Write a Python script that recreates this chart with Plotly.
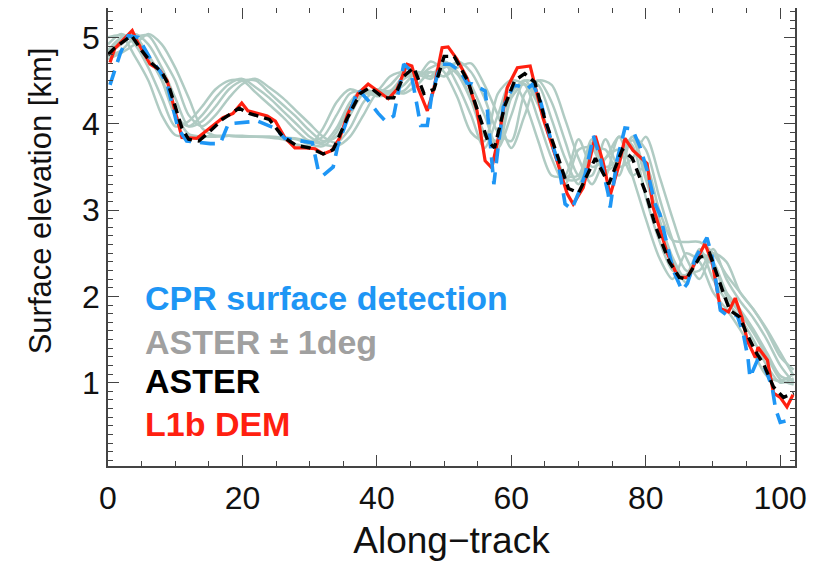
import plotly.graph_objects as go

# ---------------- data ----------------
red_x = [0.3, 1.0, 3.6, 4.3, 6.25, 7.7, 8.8, 11.0, 13.2, 15.2, 17.1, 18.6, 19.9, 20.8, 23.7, 24.9,
         26.3, 27.8, 29.3, 30.8, 32.0, 33.3, 34.5, 35.7, 37.2, 38.7, 40.2, 41.7, 43.0, 44.5, 45.2,
         46.1, 47.5, 48.4, 49.7, 50.6, 51.9, 53.4, 54.9, 56.1, 57.1, 58.3, 59.4, 60.9, 62.8, 63.5,
         64.7, 66.8, 68.3, 69.2, 70.7, 72.5, 73.7, 74.7, 75.9, 76.9, 78.1, 80.2, 81.1, 83.2, 84.8,
         86.2, 88.8, 89.9, 91.1, 92.3, 93.3, 94.3, 95.1, 96.3, 96.7, 98.1, 99.0, 100.0, 101.0, 101.9]
red_y = [4.71, 4.87, 5.08, 4.96, 4.69, 4.62, 4.50, 3.84, 3.83, 3.95, 4.07, 4.12, 4.24, 4.15, 4.09, 4.03,
         3.84, 3.72, 3.72, 3.71, 3.65, 3.69, 3.84, 4.12, 4.35, 4.46, 4.38, 4.29, 4.40, 4.69, 4.67,
         4.42, 4.15, 4.38, 4.88, 4.89, 4.75, 4.53, 4.15, 3.57, 3.49, 3.92, 4.42, 4.65, 4.67, 4.46,
         4.07, 3.57, 3.19, 3.07, 3.26, 3.86, 3.54, 3.17, 3.49, 3.83, 3.69, 3.54, 3.03, 2.50, 2.22,
         2.22, 2.61, 2.39, 1.86, 1.82, 1.98, 1.76, 1.49, 1.29, 1.41, 1.26, 0.88, 0.83, 0.72, 0.86]

aster_x = [0, 1, 3.5, 5, 6.5, 8, 9, 11, 12, 13.5, 15, 17, 19.5, 21, 24, 26, 28, 30, 32, 33.5, 35.5,
           37.5, 39, 41, 42.5, 44, 45.5, 47, 48.5, 50, 51.5, 53.5, 55, 56.5, 57.5, 59, 60.5, 62,
           63.5, 65, 67, 68.5, 70, 72.5, 74.5, 76.5, 78, 80, 81.5, 83.5, 85, 86, 88, 89.5, 91.5,
           92.5, 94, 95, 96.5, 97.5, 99, 100.5, 102]
aster_y = [4.80, 4.88, 5.02, 4.85, 4.70, 4.60, 4.45, 3.95, 3.82, 3.80, 3.90, 4.05, 4.18, 4.12, 4.05,
           3.85, 3.75, 3.72, 3.65, 3.70, 4.05, 4.35, 4.42, 4.30, 4.30, 4.55, 4.65, 4.35, 4.40, 4.78,
           4.78, 4.50, 4.15, 3.80, 3.72, 4.20, 4.50, 4.58, 4.48, 4.05, 3.60, 3.25, 3.20, 3.60, 3.30,
           3.70, 3.60, 3.20, 2.80, 2.40, 2.22, 2.20, 2.45, 2.50, 2.05, 1.84, 1.76, 1.57, 1.34, 1.22,
           0.95, 0.83, 0.88]

cpr_x = [0.3, 1.8, 3.0, 4.5, 6.25, 7.7, 8.8, 10.4, 11.7, 13.7, 15.2, 16.7, 17.9, 22.3, 24.8, 26.3,
         28.3, 30.4, 31.3, 32.0, 33.5, 34.2, 35.7, 37.2, 38.7, 40.2, 41.3, 42.5, 44.0, 45.0, 46.0,
         46.5, 47.5, 48.2, 49.5, 50.9, 52.4, 53.4, 54.2, 56.1, 56.4, 57.1, 57.4, 58.1, 58.8, 60.3,
         61.0, 62.3, 63.2, 64.3, 65.8, 67.0, 68.0, 69.0, 70.0, 71.0, 72.2, 73.2, 74.4, 74.7, 75.7,
         76.9, 78.0, 79.2, 80.2, 81.4, 82.1, 84.1, 85.4, 86.2, 87.4, 89.1, 89.9, 91.1, 92.1, 93.6,
         94.5, 95.2, 95.5, 96.6, 97.5, 98.8, 99.3, 100.0, 101.0, 101.9]
cpr_y = [4.45, 4.81, 5.02, 5.00, 4.76, 4.61, 4.46, 3.95, 3.80, 3.78, 3.77, 3.77, 4.00, 4.03, 3.95, 3.83,
         3.81, 3.78, 3.45, 3.40, 3.50, 3.75, 4.07, 4.40, 4.27, 4.12, 4.03, 4.09, 4.69, 4.62, 4.20,
         3.98, 3.98, 4.35, 4.69, 4.69, 4.61, 4.47, 4.46, 4.38, 4.19, 3.57, 3.30, 3.77, 4.19, 4.44,
         4.44, 4.40, 4.46, 4.27, 3.84, 3.54, 3.07, 3.01, 3.20, 3.42, 3.86, 3.61, 3.19, 3.03, 3.57,
         3.95, 3.94, 3.72, 3.46, 3.07, 2.95, 2.30, 2.07, 2.15, 2.45, 2.68, 2.45, 1.84, 1.78, 1.78,
         1.57, 1.29, 1.06, 1.26, 1.22, 0.95, 0.70, 0.54, 0.56, 0.59]

# ASTER +/- 1 deg profiles, sampled every 2 along-track units
gray_x = [0, 2, 4, 6, 8, 10, 12, 14, 16, 18, 20, 22, 24, 26, 28, 30, 32, 34, 36, 38, 40, 42, 44, 46,
          48, 50, 52, 54, 56, 58, 60, 62, 64, 66, 68, 70, 72, 74, 76, 78, 80, 82, 84, 86, 88, 90,
          92, 94, 96, 98, 100, 102]
gray_a = [4.92, 5.04, 4.92, 4.65, 4.30, 3.97, 4.03, 4.20, 4.40, 4.50, 4.50, 4.36, 4.22, 4.08, 3.92,
          3.80, 3.85, 4.10, 4.35, 4.38, 4.35, 4.45, 4.60, 4.55, 4.65, 4.70, 4.45, 4.10, 3.72, 4.10,
          4.50, 4.45, 4.05, 3.60, 3.30, 3.70, 3.72, 3.40, 3.85, 3.75, 3.15, 2.65, 2.30, 2.25, 2.55,
          2.20, 1.95, 1.75, 1.50, 1.20, 1.00, 1.05]
gray_b = [4.85, 5.00, 5.02, 4.78, 4.50, 4.10, 3.97, 4.10, 4.30, 4.46, 4.52, 4.42, 4.30, 4.15, 4.00,
          3.85, 3.78, 3.95, 4.25, 4.40, 4.35, 4.38, 4.55, 4.60, 4.55, 4.72, 4.60, 4.30, 3.90, 3.80,
          4.35, 4.50, 4.25, 3.80, 3.40, 3.40, 3.82, 3.50, 3.60, 3.85, 3.40, 2.90, 2.45, 2.20, 2.50,
          2.40, 2.05, 1.85, 1.62, 1.35, 1.08, 1.02]
gray_c = [4.82, 4.92, 5.04, 4.92, 4.65, 4.30, 3.97, 4.03, 4.20, 4.40, 4.50, 4.50, 4.36, 4.22, 4.08,
          3.92, 3.80, 3.85, 4.10, 4.35, 4.38, 4.35, 4.45, 4.60, 4.55, 4.65, 4.70, 4.45, 4.10, 3.72,
          4.10, 4.50, 4.45, 4.05, 3.60, 3.30, 3.70, 3.70, 3.40, 3.85, 3.70, 3.15, 2.65, 2.30, 2.30,
          2.55, 2.20, 1.95, 1.75, 1.50, 1.20, 1.00]
gray_d = [4.78, 4.85, 5.00, 5.02, 4.78, 4.50, 4.10, 3.97, 4.10, 4.30, 4.46, 4.52, 4.42, 4.30, 4.15,
          4.00, 3.85, 3.78, 3.95, 4.25, 4.40, 4.35, 4.38, 4.55, 4.60, 4.55, 4.72, 4.60, 4.30, 3.90,
          3.80, 4.35, 4.50, 4.25, 3.80, 3.40, 3.40, 3.82, 3.50, 3.60, 3.85, 3.40, 2.90, 2.45, 2.20,
          2.50, 2.40, 2.05, 1.85, 1.62, 1.35, 1.08]
gray_e = [5.00, 5.02, 4.78, 4.50, 4.10, 3.87, 3.85, 3.85, 3.86, 3.86, 3.85, 3.85, 3.84, 3.82, 3.76,
          3.75, 3.95, 4.25, 4.40, 4.35, 4.38, 4.55, 4.60, 4.55, 4.72, 4.60, 4.30, 3.90, 3.80, 4.35,
          4.50, 4.25, 3.80, 3.40, 3.40, 3.82, 3.50, 3.60, 3.85, 3.40, 2.90, 2.45, 2.20, 2.50, 2.40,
          2.05, 1.85, 1.62, 1.35, 1.08, 1.02, 1.10]
gray_f = [4.83, 4.97, 5.00, 4.80, 4.52, 4.12, 3.88, 3.85, 3.85, 3.86, 3.86, 3.85, 3.85, 3.84, 3.82,
          3.76, 3.74, 3.90, 4.20, 4.36, 4.32, 4.35, 4.52, 4.57, 4.52, 4.68, 4.57, 4.27, 3.86, 3.76,
          4.30, 4.46, 4.22, 3.76, 3.36, 3.36, 3.78, 3.46, 3.56, 3.81, 3.36, 2.86, 2.41, 2.16, 2.46,
          2.36, 2.01, 1.81, 1.58, 1.31, 1.04, 0.98]
gray_g = [4.75, 4.82, 4.92, 5.04, 4.92, 4.65, 4.30, 3.95, 3.86, 3.86, 3.85, 3.85, 3.85, 3.84, 3.83,
          3.80, 3.76, 3.74, 3.85, 4.10, 4.35, 4.38, 4.35, 4.45, 4.60, 4.55, 4.65, 4.70, 4.45, 4.10,
          3.72, 4.10, 4.50, 4.45, 4.05, 3.60, 3.30, 3.60, 3.70, 3.40, 3.50, 3.00, 2.65, 2.63, 2.63,
          2.50, 2.25, 2.05, 1.85, 1.60, 1.30, 1.15]
gray_lines = [gray_a, gray_b, gray_c, gray_d, gray_e, gray_f, gray_g]

x_ticks = [0, 20, 40, 60, 80, 100]
y_ticks = [1, 2, 3, 4, 5]

legend_labels = ["CPR surface detection", "ASTER \u00b1 1deg", "ASTER", "L1b DEM"]

# ---------------- styles ----------------
GRAY = "#B0CBC3"
BLUE = "#1E96F5"
RED = "#FF2010"
FONT = "Liberation Sans, Arial, Helvetica, sans-serif"

fig = go.Figure()
for gy in gray_lines:
    fig.add_trace(go.Scatter(x=gray_x, y=gy, mode="lines",
                             line=dict(color=GRAY, width=2.5, shape="spline", smoothing=0.8),
                             hoverinfo="skip", showlegend=False))
fig.add_trace(go.Scatter(x=red_x, y=red_y, mode="lines",
                         line=dict(color=RED, width=3.2), showlegend=False))
fig.add_trace(go.Scatter(x=cpr_x, y=cpr_y, mode="lines",
                         line=dict(color=BLUE, width=3.6, dash="15px,9px"), showlegend=False))
fig.add_trace(go.Scatter(x=aster_x, y=aster_y, mode="lines",
                         line=dict(color="black", width=3.4, dash="10px,6px"), showlegend=False))

legend_colors = [BLUE, "#A0A0A0", "black", RED]
legend_y = [0.366, 0.270, 0.185, 0.0915]
for lab, col, yy in zip(legend_labels, legend_colors, legend_y):
    fig.add_annotation(x=0.051, y=yy, xref="paper", yref="paper", text="<b>%s</b>" % lab,
                       showarrow=False, xanchor="left", yanchor="middle",
                       font=dict(family=FONT, size=34, color=col))

# y-axis title, placed as in the original (slightly above the plot centre)
fig.add_annotation(x=-0.099, y=0.58, xref="paper", yref="paper", text="Surface elevation [km]",
                   textangle=-90, showarrow=False, xanchor="center", yanchor="middle",
                   font=dict(family=FONT, size=31, color="#111111"))

axis_common = dict(showline=True, linecolor="#444444", linewidth=1.5, mirror="allticks",
                   ticks="inside", tickcolor="#444444", tickwidth=1.3, showgrid=False,
                   zeroline=False, automargin=False,
                   tickfont=dict(family=FONT, size=32, color="#111111"))

fig.update_xaxes(range=[0, 102.2], tickvals=x_ticks, ticklen=11, ticklabelstandoff=3,
                 minor=dict(dtick=5, tick0=0, ticklen=5, ticks="inside", tickcolor="#444444",
                            showgrid=False),
                 title=dict(text="Along\u2212track", font=dict(family=FONT, size=37, color="#111111"),
                            standoff=12),
                 **axis_common)
fig.update_yaxes(range=[0.035, 5.341], tickvals=y_ticks, ticklen=11,
                 minor=dict(dtick=0.1, tick0=0, ticklen=5, ticks="inside", tickcolor="#444444",
                            showgrid=False),
                 **axis_common)

# the page adds an 8px body margin, so the plot area is offset accordingly
fig.update_layout(width=823, height=561, margin=dict(l=100, r=36, t=0, b=103),
                  plot_bgcolor="white", paper_bgcolor="white", showlegend=False)

fig.write_html("out.html")
